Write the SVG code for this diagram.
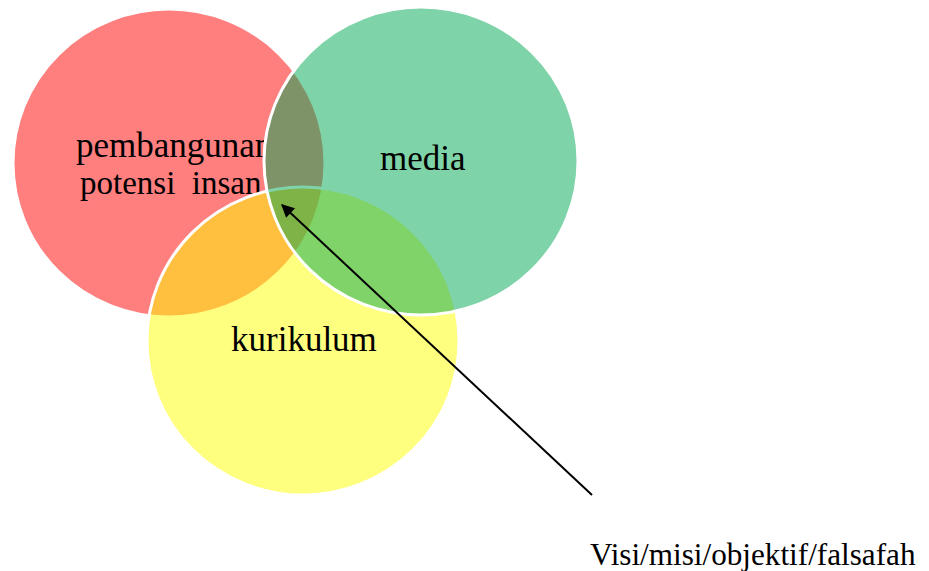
<svg xmlns="http://www.w3.org/2000/svg" width="929" height="571" viewBox="0 0 929 571">
<defs>
<style>
.c{stroke:#ffffff;stroke-width:3;fill-opacity:0.5}
.t{font-family:"Liberation Serif","Times New Roman",serif;font-size:35px;fill:#000}
</style>
<marker id="ah" viewBox="0 0 10 10" refX="9" refY="5" markerWidth="7.5" markerHeight="6.5" orient="auto-start-reverse" markerUnits="strokeWidth">
<path d="M0,0 L10,5 L0,10 z" fill="#000"/>
</marker>
<clipPath id="redclip"><rect x="0" y="0" width="264" height="571"/></clipPath>
</defs>
<rect width="929" height="571" fill="#fff"/>
<g id="pembangunan">
<ellipse class="c" cx="169" cy="163" rx="156" ry="154" fill="#ff0000"/>
<g clip-path="url(#redclip)">
<text class="t" x="76" y="157">pembangunan</text>
<text class="t" x="80" y="194" style="font-size:33px" xml:space="preserve">potensi  insan</text>
</g>
</g>
<g id="kurikulum">
<ellipse class="c" cx="303" cy="341" rx="156" ry="154" fill="#ffff00"/>
<text class="t" x="231" y="351">kurikulum</text>
</g>
<g id="media">
<ellipse class="c" cx="421" cy="161" rx="157" ry="154" fill="#00a852"/>
<text class="t" x="380" y="170">media</text>
</g>
<g id="connectors">
<line x1="592" y1="495" x2="282" y2="205" stroke="#000" stroke-width="2" marker-end="url(#ah)"/>
</g>
<g id="visi">
<text class="t" x="590" y="565" style="font-size:31.2px">Visi/misi/objektif/falsafah</text>
</g>
</svg>
